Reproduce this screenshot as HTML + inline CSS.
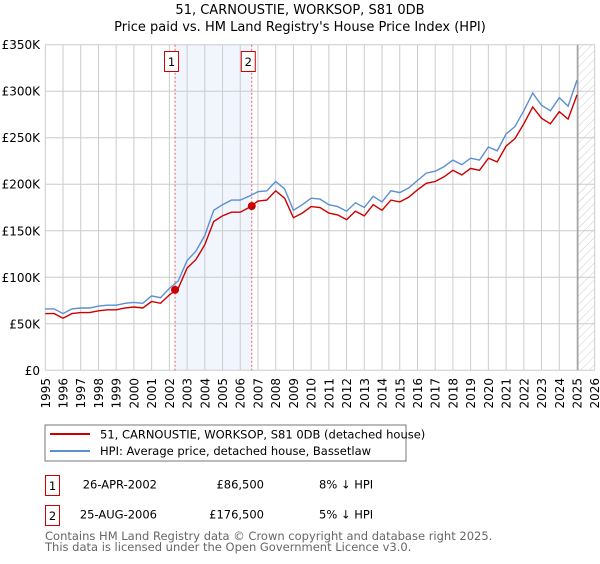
<!DOCTYPE html>
<html><head><meta charset="utf-8"><style>
body{margin:0;background:#fff;font-family:"DejaVu Sans","Liberation Sans",sans-serif;}
svg text{font-family:"DejaVu Sans","Liberation Sans",sans-serif;}
</style></head><body>
<svg id="chart" width="600" height="560" xmlns="http://www.w3.org/2000/svg">
<defs><pattern id="hatch" width="6" height="6" patternUnits="userSpaceOnUse" patternTransform="rotate(45)"><line x1="0" y1="0" x2="0" y2="6" stroke="#ccc" stroke-width="1"/></pattern></defs>
<text x="300" y="14" text-anchor="middle" font-size="13">51, CARNOUSTIE, WORKSOP, S81 0DB</text>
<text x="300" y="31" text-anchor="middle" font-size="13">Price paid vs. HM Land Registry's House Price Index (HPI)</text>
<g id="grid"></g><g id="marks"></g><g id="axes"></g>
<rect x="45" y="425" width="361" height="36" fill="#fff" stroke="#777"/>
<line x1="50" y1="434" x2="90" y2="434" stroke="#cc0000" stroke-width="2"/>
<text x="100" y="438.5" font-size="11.5">51, CARNOUSTIE, WORKSOP, S81 0DB (detached house)</text>
<line x1="50" y1="451" x2="90" y2="451" stroke="#5b8fd1" stroke-width="2"/>
<text x="100" y="455" font-size="11.5">HPI: Average price, detached house, Bassetlaw</text>
<rect x="45.5" y="475.5" width="14" height="20" fill="#fff" stroke="#cc0000"/>
<text x="52.5" y="490" text-anchor="middle" font-size="11.5">1</text>
<text x="157" y="488.5" text-anchor="end" font-size="11.5">26-APR-2002</text>
<text x="264" y="488.5" text-anchor="end" font-size="11.5">£86,500</text>
<text x="319" y="488.5" font-size="11.5">8% ↓ HPI</text>
<rect x="45.5" y="505.5" width="14" height="20" fill="#fff" stroke="#cc0000"/>
<text x="52.5" y="520" text-anchor="middle" font-size="11.5">2</text>
<text x="157" y="518.5" text-anchor="end" font-size="11.5">25-AUG-2006</text>
<text x="264" y="518.5" text-anchor="end" font-size="11.5">£176,500</text>
<text x="319" y="518.5" font-size="11.5">5% ↓ HPI</text>
<text x="45" y="540" font-size="11.5" fill="#666">Contains HM Land Registry data © Crown copyright and database right 2025.</text>
<text x="45" y="551" font-size="11.5" fill="#666">This data is licensed under the Open Government Licence v3.0.</text>
</svg>
<script>
const years=[];for(let y=1995;y<=2026;y++)years.push(y);
const yTicks=[0,50,100,150,200,250,300,350];
const yTickLabels=["£0","£50K","£100K","£150K","£200K","£250K","£300K","£350K"];
const hpiStart=1995, hpiStep=0.5;
const hpiValues=[66,66,61,66,67,67,69,70,70,72,73,72,80,78,88,96,118,128,145,172,178,183,183,187,192,193,203,195,172,178,185,184,178,176,171,180,175,187,181,193,191,196,204,212,214,219,226,221,228,226,240,236,254,262,279,298,285,279,293,284,312];
const priceValues=[61,61,56,61,62,62,64,65,65,67,68,67,74,72,81,88,110,119,135,160,166,170,170,175,182,183,193,185,164,169,176,175,169,167,162,171,166,178,172,183,181,186,194,201,203,208,215,210,217,215,228,224,241,249,265,283,271,265,278,270,296];
const saleDates=[2002.32,2006.65];
const salePrices=[86.5,176.5];
const saleLabels=["1","2"];
const dataEnd=2025.05;
const NS="http://www.w3.org/2000/svg";
const X0=45.3,X1=594.7,Y0=370.3,Y1=44.7;
const xs=y=>X0+(y-1995)/(2026-1995)*(X1-X0);
const ys=v=>Y0-v/350*(Y0-Y1);
function mk(t,a,p){const e=document.createElementNS(NS,t);for(const k in a)e.setAttribute(k,a[k]);p.appendChild(e);return e;}
const grid=document.getElementById('grid'),marks=document.getElementById('marks'),axes=document.getElementById('axes');
const shade=mk('rect',{x:xs(saleDates[0]),y:Y1,width:xs(saleDates[1])-xs(saleDates[0]),height:Y0-Y1,fill:'#eef3fc',opacity:0.8},grid);


years.forEach(y=>{const l=mk('line',{x1:xs(y),x2:xs(y),y1:Y1,y2:Y0,stroke:'#ccc'},grid);


const tx=xs(y)+4.5;
const t=mk('text',{x:tx,y:378,'text-anchor':'end','font-size':'12',transform:'rotate(-90 '+tx+' 378)'},axes);t.textContent=y;

});
yTicks.forEach((v,i)=>{const l=mk('line',{x1:X0,x2:X1,y1:ys(v),y2:ys(v),stroke:'#ccc'},grid);


const t=mk('text',{x:40,y:ys(v)+4.5,'text-anchor':'end','font-size':'12'},axes);t.textContent=yTickLabels[i];

});
const h=mk('rect',{x:xs(dataEnd),y:Y1,width:X1-xs(dataEnd),height:Y0-Y1,fill:'url(#hatch)'},grid);


const hl=mk('line',{x1:xs(dataEnd),x2:xs(dataEnd),y1:Y1,y2:Y0,stroke:'#999','stroke-width':1.2},grid);


saleDates.forEach((d,i)=>{const l=mk('line',{x1:xs(d),x2:xs(d),y1:Y1,y2:Y0,stroke:'#e06060','stroke-dasharray':'2,2'},grid);


const b=mk('rect',{x:xs(d)-7-3.5,y:51.5,width:14,height:20,fill:'#fff',stroke:'#cc0000'},grid);


const t=mk('text',{x:xs(d)-3.5,y:66,'text-anchor':'middle','font-size':'11.5'},grid);t.textContent=saleLabels[i];

});
function path(vals){return vals.map((v,i)=>(i?'L':'M')+xs(hpiStart+i*hpiStep).toFixed(1)+','+ys(v).toFixed(1)).join('');}
const hp=mk('path',{d:path(hpiValues),fill:'none',stroke:'#5b8fd1','stroke-width':1.4},marks);


const pp=mk('path',{d:path(priceValues),fill:'none',stroke:'#cc0000','stroke-width':1.4},marks);


saleDates.forEach((d,i)=>{const c=mk('circle',{cx:xs(d),cy:ys(salePrices[i]),r:4,fill:'#cc0000'},marks);

});
</script>
</body></html>
